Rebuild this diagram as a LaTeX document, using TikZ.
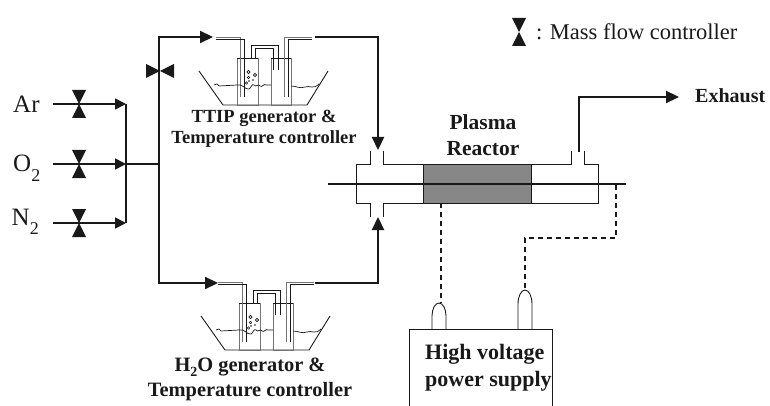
\documentclass[tikz,border=0pt]{standalone}
\usepackage{fontspec}
\setmainfont{Liberation Serif}
\usetikzlibrary{arrows.meta}
\definecolor{ink}{gray}{0.1}
\definecolor{pipegrey}{gray}{0.45}
\newcommand{\fs}[1]{\fontsize{#1}{#1}\selectfont}
\newcommand{\subtwo}[2]{\raisebox{#2}{\fs{#1}2}}
\tikzset{
  x=1pt,y=-1pt,
  line/.style={draw=ink,line width=2.2pt,line join=miter},
  gasline/.style={draw=ink,line width=1.7pt,-{Triangle[length=11pt,width=11pt]}},
  flow/.style={line,-{Triangle[length=13pt,width=12pt]}},
  thin part/.style={draw=ink,line width=0.9pt},
  grey part/.style={draw=pipegrey,line width=0.9pt},
  elec/.style={draw=ink,line width=1.9pt,dash pattern=on 5pt off 4pt},
  gas/.style={inner sep=0pt,font=\fs{25}},
  boldlabel/.style={inner sep=0pt,align=center,font=\fs{20}\bfseries,text=ink},
  valve/.pic={\fill[ink] (-7,-14) -- (7,-14) -- (-7,14) -- (7,14) -- cycle;},
  hvalve/.pic={\fill[ink] (-14,-7) -- (-14,7) -- (14,-7) -- (14,7) -- cycle;},
  vessel/.pic={
    % bath
    \draw[thin part] (-38,13) -- (-14,47) -- (70,47) -- (91,13);
    % bottles
    \draw[grey part] (0,0) rectangle (21,47);
    \draw[grey part] (34,0) rectangle (54,47);
    \draw[thin part] (0,0) -- (21,0) (34,0) -- (54,0);
    % inlet and outlet double tube
    \draw[grey part] (-21,-21) -- (3,-21) -- (3,39);
    \draw[thin part] (-21,-19) -- (7,-19) -- (7,39);
    \draw[grey part] (75,-21) -- (47,-21) -- (47,39);
    \draw[thin part] (75,-19) -- (51,-19) -- (51,39);
    % link tube
    \draw[thin part] (14,0) -- (14,-13) -- (41,-13) -- (41,12);
    \draw[thin part] (18,0) -- (18,-10) -- (36,-10) -- (36,12);
    % liquid
    \draw[draw=ink,line width=0.7pt] (-23,27) -- (-20,26) -- (-18,28) -- (0,27)
      .. controls (5,25) and (8,32) .. (12,31)
      .. controls (14,30) and (15,25) .. (17,27)
      .. controls (19,30) and (21,25) .. (23,28)
      .. controls (25,30) and (27,25) .. (29,27) -- (34,27);
    \draw[draw=ink,line width=0.7pt] (54,28) .. controls (60,28) and (62,31) .. (68,29)
      .. controls (73,27) and (76,32) .. (82,26);
    % bubbles
    \draw[draw=ink,line width=0.6pt] (11.5,14) circle (1.6) (11.5,19.5) circle (1.3)
      (18,17) circle (1.6) (9.5,25) circle (1.2);
    \fill[ink] (16,22) circle (0.9) (12,23) circle (0.8);
  }
}
\begin{document}
\begin{tikzpicture}
\useasboundingbox (0,0) rectangle (770,406);

% gas labels
\node[gas,text=ink,anchor=base west] (ar) at (13,113) {Ar};
\node[gas,text=ink,anchor=base west] (o2) at (13,171.5) {O\subtwo{18}{-10pt}};
\node[gas,text=ink,anchor=base west] (n2) at (11.5,225) {N\subtwo{18}{-9pt}};

% gas lines and manifold
\coordinate (arS) at (53,104);
\coordinate (o2S) at (53,164);
\coordinate (n2S) at (53,223);
\coordinate (arE) at (126,104);
\coordinate (o2E) at (126,164);
\coordinate (n2E) at (126,223);
\coordinate (trunk) at (159,164);
\coordinate (topIn) at (213,37);
\coordinate (botIn) at (218,283);
\coordinate (topOut) at (315,37);
\coordinate (botOut) at (315,283);
\coordinate (topPort) at (378,150);
\coordinate (botPort) at (378,217);
\coordinate (exS) at (579,152);
\coordinate (exE) at (679,97);

\draw[gasline] (arS) -- (arE);
\draw[gasline] (o2S) -- (o2E);
\draw[gasline] (n2S) -- (n2E);
\draw[line] (arE) -- (n2E);
\draw[draw=ink,line width=1.7pt] (o2E) -- (trunk);
\draw[flow] (trunk) |- (topIn);
\draw[flow] (trunk) |- (botIn);
\draw[flow] (topOut) -| (topPort);
\draw[flow] (botOut) -| (botPort);
\draw[flow] (exS) |- (exE);

% valves
\pic at (79,104) {valve};
\pic at (79,164) {valve};
\pic at (79,223) {valve};
\pic at (160,71) {hvalve};
\pic at (519,32) {valve};

% vessels
\pic at (237,58) {vessel};
\pic at (239,303) {vessel};

% reactor
\fill[fill=black!47] (423,164) rectangle (531,203);
\draw[thin part] (370,151) -- (370,164) -- (356,164) -- (356,203) -- (370,203) -- (370,217);
\draw[thin part] (383,151) -- (383,164) -- (571,164) -- (571,151);
\draw[thin part] (584,151) -- (584,164) -- (598,164) -- (598,203) -- (383,203) -- (383,217);
\draw[thin part] (423,164) rectangle (531,203);
\coordinate (rodL) at (328,184);
\coordinate (rodR) at (626,184);
\draw[line] (rodL) -- (rodR);

% power supply
\coordinate (psBL) at (409,406);
\coordinate (psTR) at (552,329);
\draw[thin part] (psBL) |- (psTR) -- (552,406);
\draw[thin part] (432,329) -- (432,316) arc[start angle=180,end angle=360,x radius=7,y radius=13] -- (446,329);
\draw[thin part] (518,329) -- (518,304) arc[start angle=180,end angle=360,x radius=7,y radius=14] -- (532,329);
\coordinate (plugA) at (441,303);
\coordinate (plugB) at (525,290);
\coordinate (tapA) at (441,203);
\coordinate (tapB) at (616,185);
\draw[elec] (tapA) -- (plugA);
\draw[elec] (tapB) |- (525,238) -- (plugB);

% labels
\node[inner sep=0pt,anchor=west,font=\fs{22.5},text=ink] (legend) at (536,32) {: Mass flow controller};
\node[boldlabel,anchor=west] (exhaust) at (695,96) {Exhaust};
\node[boldlabel,font=\fs{18.5}\bfseries] (ttip) at (264,128.5) {TTIP generator \&\\[2.5pt]Temperature controller};
\node[boldlabel,font=\fs{21.5}\bfseries] (plasma) at (483,135) {Plasma\\[5pt]Reactor};
\node[boldlabel,font=\fs{20.4}\bfseries] (h2o) at (250,379.5) {H\subtwo{14}{-5pt}O generator \&\\[4pt]Temperature controller};
\node[boldlabel,font=\fs{22}\bfseries,align=left,anchor=west] (hv) at (425,367.5) {High voltage\\[5pt]power supply};
\end{tikzpicture}
\end{document}
